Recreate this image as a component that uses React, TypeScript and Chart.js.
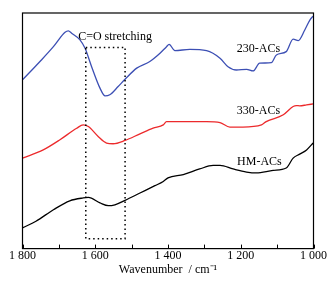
import React, { useEffect, useRef } from "react";
import { Chart, registerables } from "chart.js";

Chart.register(...registerables);

// Wavenumbers (cm-1) and relative intensities (a.u.)
const wn230 = [1800, 1752, 1715, 1683, 1674, 1665, 1642, 1628, 1610, 1587, 1573, 1560, 1537, 1518, 1486, 1450, 1422, 1404, 1397, 1381, 1340, 1294, 1257, 1235, 1212, 1184, 1166, 1148, 1116, 1102, 1075, 1056, 1042, 1024, 1010, 1001];
const val230 = [71.6, 79.4, 85.7, 91.8, 92.4, 91.4, 88.6, 85.0, 77.2, 68.1, 64.8, 65.3, 68.8, 71.9, 76.6, 79.4, 82.9, 85.7, 86.7, 84.0, 84.6, 84.0, 80.8, 77.2, 75.8, 76.1, 75.4, 78.7, 78.9, 82.2, 83.6, 88.9, 88.3, 92.8, 97.0, 98.7];

const wn330 = [1800, 1743, 1697, 1651, 1633, 1619, 1592, 1569, 1551, 1518, 1477, 1441, 1413, 1404, 1358, 1294, 1257, 1230, 1194, 1143, 1130, 1083, 1056, 1047, 1038, 1019, 1001];
const val330 = [38.4, 41.9, 46.2, 51.1, 52.5, 51.8, 47.6, 44.8, 44.5, 45.9, 48.7, 51.1, 52.5, 53.9, 53.9, 53.9, 53.5, 51.6, 51.6, 52.5, 53.9, 56.8, 60.3, 60.7, 60.6, 61.0, 61.4];

const wnHM = [1800, 1763, 1715, 1670, 1633, 1619, 1587, 1564, 1546, 1518, 1477, 1436, 1413, 1400, 1358, 1313, 1276, 1257, 1221, 1184, 1157, 1111, 1075, 1056, 1038, 1019, 1001];
const valHM = [8.8, 11.6, 16.5, 20.3, 21.5, 21.7, 19.4, 18.2, 18.6, 20.5, 23.6, 26.7, 28.5, 30.0, 31.4, 33.8, 35.3, 35.3, 33.8, 32.5, 32.1, 33.2, 34.2, 38.4, 40.1, 41.9, 44.8];

const seriesNames = ["230-ACs", "330-ACs", "HM-ACs"];
const seriesColors = ["#3c4fb4", "#ec2a2c", "#000000"];

// Series label anchors (wavenumber, intensity at text baseline)
const labelWn = [1211, 1211, 1210];
const labelVal = [83.3, 57.2, 35.5];

// C=O stretching region box
const boxWn = [1626, 1518];
const boxVal = [85.4, 4.2];
const boxText = "C=O stretching";
const boxTextWn = 1647;
const boxTextVal = 88.4;

const xMin = 1000;
const xMax = 1800;
const xStep = 100;
const labelStep = 200;

const FONT = "'Liberation Serif', 'Times New Roman', serif";

function zip(xs: number[], ys: number[]) {
  return xs.map((x, i) => ({ x, y: ys[i] }));
}

const decorPlugin = {
  id: "decor",
  afterDatasetsDraw(chart: any) {
    const { ctx, chartArea, scales } = chart;
    const xs = scales.x;
    const ys = scales.y;
    ctx.save();
    // frame
    ctx.strokeStyle = "#000";
    ctx.lineWidth = 1.2;
    ctx.strokeRect(chartArea.left, chartArea.top, chartArea.right - chartArea.left, chartArea.bottom - chartArea.top);
    // inward ticks on bottom axis
    ctx.lineWidth = 1;
    for (let v = xMin; v <= xMax; v += xStep) {
      const px = Math.round(xs.getPixelForValue(v)) + 0.5;
      ctx.beginPath();
      ctx.moveTo(px, chartArea.bottom);
      ctx.lineTo(px, chartArea.bottom - 4);
      ctx.stroke();
    }
    // dotted box
    const bx1 = xs.getPixelForValue(boxWn[0]);
    const bx2 = xs.getPixelForValue(boxWn[1]);
    const by1 = ys.getPixelForValue(boxVal[0]);
    const by2 = ys.getPixelForValue(boxVal[1]);
    ctx.setLineDash([1.5, 3]);
    ctx.lineWidth = 1.5;
    ctx.strokeRect(bx1, by1, bx2 - bx1, by2 - by1);
    ctx.setLineDash([]);
    // texts
    ctx.fillStyle = "#000";
    ctx.font = "12px " + FONT;
    ctx.textAlign = "left";
    ctx.textBaseline = "alphabetic";
    ctx.fillText(boxText, xs.getPixelForValue(boxTextWn), ys.getPixelForValue(boxTextVal));
    seriesNames.forEach((n, i) => {
      ctx.fillText(n, xs.getPixelForValue(labelWn[i]), ys.getPixelForValue(labelVal[i]));
    });
    ctx.restore();
  },
};

export default function App() {
  const ref = useRef<HTMLCanvasElement | null>(null);
  useEffect(() => {
    document.body.style.margin = "0";
    const canvas = ref.current;
    if (!canvas) return;
    const data = [zip(wn230, val230), zip(wn330, val330), zip(wnHM, valHM)];
    const chart = new Chart(canvas, {
      type: "line",
      data: {
        datasets: data.map((d, i) => ({
          label: seriesNames[i],
          data: d,
          borderColor: seriesColors[i],
          borderWidth: 1.3,
          pointRadius: 0,
          cubicInterpolationMode: "monotone",
          fill: false,
        })),
      },
      options: {
        animation: false,
        responsive: false,
        maintainAspectRatio: false,
        layout: { padding: { left: 22.5, right: 22.5, top: 13, bottom: 4 } },
        plugins: { legend: { display: false }, tooltip: { enabled: false } },
        scales: {
          x: {
            type: "linear",
            reverse: true,
            min: xMin,
            max: xMax,
            grid: { display: false, drawTicks: false },
            border: { display: false },
            ticks: {
              stepSize: xStep,
              autoSkip: false,
              maxRotation: 0,
              padding: 1,
              color: "#000",
              font: { family: FONT, size: 12, lineHeight: 1 },
              callback: (v: any) => {
                const n = Number(v);
                if (n % labelStep !== 0) return "";
                const s = String(n);
                return s.length > 3 ? s.slice(0, s.length - 3) + " " + s.slice(-3) : s;
              },
            },
            title: {
              display: true,
              text: "Wavenumber  / cm\u207B\u00B9",
              color: "#000",
              padding: 0,
              font: { family: FONT, size: 12, lineHeight: 1.2 },
            },
          },
          y: { display: false, min: 0, max: 100 },
        },
      },
      plugins: [decorPlugin],
    } as any);
    return () => chart.destroy();
  }, []);
  return (
    <div style={{ width: 336, height: 281 }}>
      <canvas ref={ref} width={336} height={281} style={{ display: "block" }} />
    </div>
  );
}
